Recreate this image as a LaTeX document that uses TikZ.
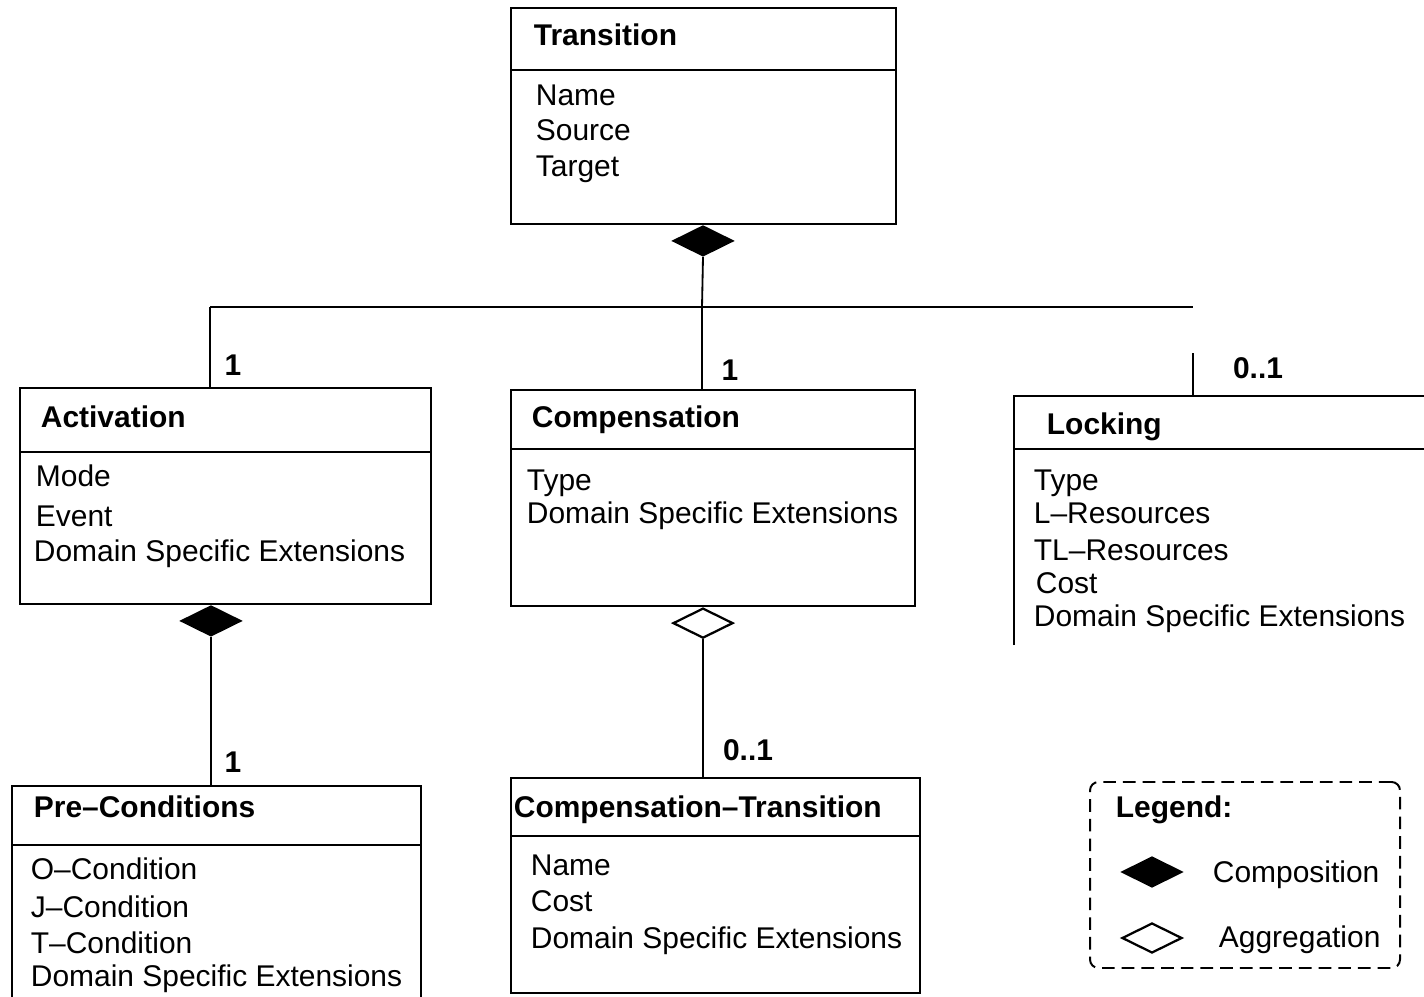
\documentclass[tikz,border=0pt]{standalone}
\usepackage{fontspec}
\setmainfont{Liberation Sans}
\usetikzlibrary{shapes.geometric,fit}
\begin{document}
\begin{tikzpicture}[x=0.025cm,y=-0.025cm,line width=1.3pt,
  umlbox/.style={draw, inner sep=0pt, fit={#1}},
  openbox/.style={inner sep=0pt, fit={#1}},
  ttl/.style={anchor=west, inner sep=0pt, yshift=-0.1cm, font=\fontsize{21.3}{25}\selectfont\bfseries, text height=0.72em, text depth=0pt},
  attr/.style={anchor=west, inner sep=0pt, yshift=-0.1cm, font=\fontsize{21.3}{25}\selectfont, text height=0.72em, text depth=0pt},
  mult/.style={anchor=center, inner sep=0pt, font=\fontsize{21.3}{25}\selectfont\bfseries},
  compo/.style={diamond, draw, fill=black, inner sep=0pt, line width=1.3pt, minimum width=1.5cm, minimum height=0.75cm},
  aggr/.style={diamond, draw, fill=white, inner sep=0pt, line width=1.6pt, minimum width=1.5cm, minimum height=0.75cm},
  legendbox/.style={draw, inner sep=0pt, rounded corners=6pt, dash pattern=on 9pt off 5pt, line width=1.4pt, fit={#1}}
]
\useasboundingbox (0,0) rectangle (1424,997);

% ---- Transition ----
\node[umlbox={(511,8) (896,224)}] (trans) {};
\draw (511,70) -- (896,70);
\node[ttl] (transT) at (533,36) {Transition};
\node[attr] (transA1) at (535,96) {Name};
\node[attr] (transA2) at (535,131) {Source};
\node[attr] (transA3) at (535,167) {Target};

% ---- Activation ----
\node[umlbox={(20,388) (431,604)}] (act) {};
\draw (20,452) -- (431,452);
\node[ttl] (actT) at (40,418) {Activation};
\node[attr] (actA1) at (35,477) {Mode};
\node[attr] (actA2) at (35,517) {Event};
\node[attr] (actA3) at (33,552) {Domain Specific Extensions};

% ---- Compensation ----
\node[umlbox={(511,390) (915,606)}] (comp) {};
\draw (511,449) -- (915,449);
\node[ttl] (compT) at (531,418) {Compensation};
\node[attr] (compA1) at (526,481) {Type};
\node[attr] (compA2) at (526,514) {Domain Specific Extensions};

% ---- Locking (runs past the right edge) ----
\node[openbox={(1014,396) (1424,645)}] (lock) {};
\draw (1014,645) -- (1014,396) -- (1424,396);
\draw (1014,449) -- (1424,449);
\node[ttl] (lockT) at (1046,425) {Locking};
\node[attr] (lockA1) at (1033,481) {Type};
\node[attr] (lockA2) at (1033,514) {L--Resources};
\node[attr] (lockA3) at (1033,551) {TL--Resources};
\node[attr] (lockA4) at (1035,584) {Cost};
\node[attr] (lockA5) at (1033,617) {Domain Specific Extensions};

% ---- Pre-Conditions (runs past the bottom edge) ----
\node[openbox={(12,786) (421,997)}] (pre) {};
\draw (12,997) -- (12,786) -- (421,786) -- (421,997);
\draw (12,845) -- (421,845);
\node[ttl] (preT) at (33,808) {Pre--Conditions};
\node[attr] (preA1) at (30,870) {O--Condition};
\node[attr] (preA2) at (30,908) {J--Condition};
\node[attr] (preA3) at (30,944) {T--Condition};
\node[attr] (preA4) at (30,977) {Domain Specific Extensions};

% ---- Compensation-Transition ----
\node[umlbox={(511,778) (920,993)}] (ctrans) {};
\draw (511,836) -- (920,836);
\node[ttl] (ctransT) at (513,808) {Compensation--Transition};
\node[attr] (ctransA1) at (530,866) {Name};
\node[attr] (ctransA2) at (530,902) {Cost};
\node[attr] (ctransA3) at (530,939) {Domain Specific Extensions};

% ---- associations ----
\node[compo, anchor=north] (dTrans) at (703,225) {};
\coordinate (busL) at (210,307);
\coordinate (busM) at (702,307);
\coordinate (busR) at (1193,307);
\coordinate (lockTop) at (1193,353);
\draw (dTrans.south) -- (busM);
\draw (busL) -- (busR);
\draw (busL) -- (busL |- act.north);
\draw (busM) -- (busM |- comp.north);
\draw (lockTop) -- (lockTop |- lock.north);
\node[mult] (m1) at (233,365) {1};
\node[mult] (m2) at (730,370) {1};
\node[mult] (m3) at (1258,368) {0..1};

\node[compo, anchor=north] (dAct) at (211,605) {};
\draw (dAct.south) -- (dAct.south |- pre.north);
\node[mult] (m4) at (233,762) {1};

\node[aggr, anchor=north] (dComp) at (703,607) {};
\draw (dComp.south) -- (dComp.south |- ctrans.north);
\node[mult] (m5) at (748,750) {0..1};

% ---- legend ----
\node[legendbox={(1090,782) (1400,968)}] (legend) {};
\node[ttl] (legT) at (1115,808) {Legend:};
\node[compo] (legComp) at (1152,872) {};
\node[attr] (legCompT) at (1212,873) {Composition};
\node[aggr] (legAggr) at (1152,938) {};
\node[attr] (legAggrT) at (1218,938) {Aggregation};
\end{tikzpicture}
\end{document}
